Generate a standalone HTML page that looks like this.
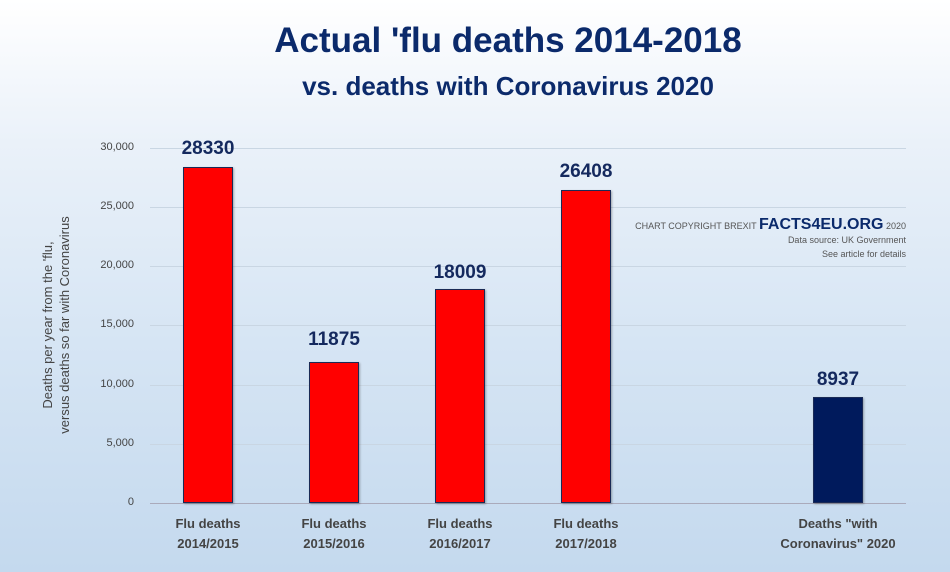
<!DOCTYPE html>
<html><head><meta charset="utf-8"><style>
body{margin:0;width:950px;height:572px;overflow:hidden;background:linear-gradient(#ffffff 0%,#eaf1f9 25%,#d6e5f4 60%,#c4d9ee 100%);font-family:"Liberation Sans",sans-serif;position:relative}
.t{position:absolute;left:0;width:1016px;text-align:center;color:#0b2a6b;font-weight:bold}
.g{position:absolute;left:150px;width:756px;height:1px;background:#c9d6e3}
.y{position:absolute;left:90px;width:44px;text-align:right;font-size:11px;color:#444}
.b{position:absolute;width:50px;background:#ff0000;border:1px solid #1a2a55;box-sizing:border-box;box-shadow:1px 1px 2px rgba(0,0,0,.3)}
.v{position:absolute;width:120px;text-align:center;font-size:19px;font-weight:bold;color:#14295e}
.x{position:absolute;width:140px;text-align:center;font-size:13px;font-weight:bold;color:#444;line-height:20px}
</style></head><body>
<div class="t" style="top:21px;font-size:35px">Actual 'flu deaths 2014-2018</div>
<div class="t" style="top:71px;font-size:26px">vs. deaths with Coronavirus 2020</div>
<div class="g" style="top:148px"></div><div class="g" style="top:207px"></div><div class="g" style="top:266px"></div><div class="g" style="top:325px"></div><div class="g" style="top:385px"></div><div class="g" style="top:444px"></div><div class="g" style="top:503px;background:#aab"></div>
<div class="y" style="top:141px">30,000</div><div class="y" style="top:200px">25,000</div><div class="y" style="top:259px">20,000</div><div class="y" style="top:318px">15,000</div><div class="y" style="top:378px">10,000</div><div class="y" style="top:437px">5,000</div><div class="y" style="top:496px">0</div>
<div style="position:absolute;left:56px;top:325px;transform:translate(-50%,-50%) rotate(-90deg);font-size:13px;color:#444;text-align:center;white-space:nowrap;line-height:17px">Deaths per year from the 'flu,<br>versus deaths so far with Coronavirus</div>
<div class="b" style="left:183px;top:167px;height:336px"></div>
<div class="b" style="left:309px;top:362px;height:141px"></div>
<div class="b" style="left:435px;top:289px;height:214px"></div>
<div class="b" style="left:561px;top:190px;height:313px"></div>
<div class="b" style="left:813px;top:397px;height:106px;background:#001a5c"></div>
<div class="v" style="left:148px;top:138px">28330</div>
<div class="v" style="left:274px;top:329px">11875</div>
<div class="v" style="left:400px;top:262px">18009</div>
<div class="v" style="left:526px;top:161px">26408</div>
<div class="v" style="left:778px;top:369px">8937</div>
<div class="x" style="left:138px;top:514px">Flu deaths<br>2014/2015</div>
<div class="x" style="left:264px;top:514px">Flu deaths<br>2015/2016</div>
<div class="x" style="left:390px;top:514px">Flu deaths<br>2016/2017</div>
<div class="x" style="left:516px;top:514px">Flu deaths<br>2017/2018</div>
<div class="x" style="left:768px;top:514px">Deaths "with<br>Coronavirus" 2020</div>
<div style="position:absolute;right:44px;top:218px;text-align:right;color:#555;font-size:9px;line-height:14px">CHART COPYRIGHT BREXIT <b style="font-size:16px;color:#0b2a6b">FACTS4EU.ORG</b> 2020<br>Data source: UK Government<br>See article for details</div>
</body></html>
